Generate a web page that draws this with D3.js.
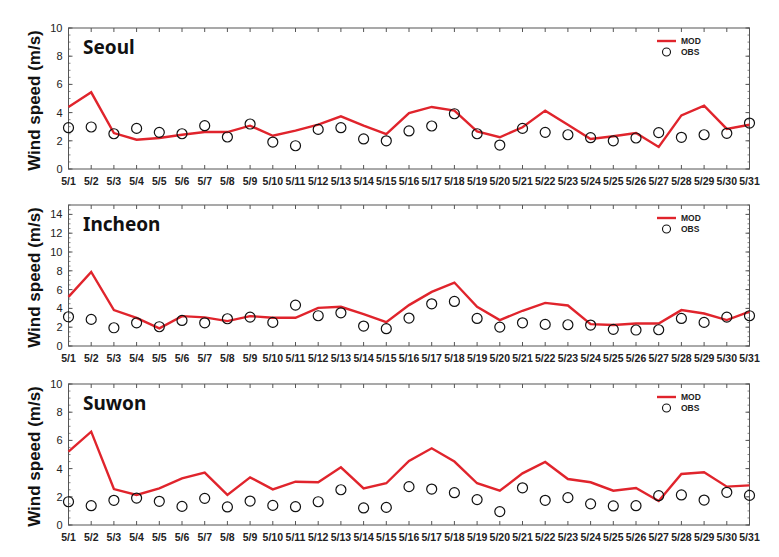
<!DOCTYPE html>
<html><head><meta charset="utf-8">
<script src="https://cdn.jsdelivr.net/npm/d3@7"></script>
<style>body{margin:0;background:#fff}svg{display:block}</style>
</head><body>
<script>
const days = ["5/1","5/2","5/3","5/4","5/5","5/6","5/7","5/8","5/9","5/10","5/11","5/12","5/13","5/14","5/15","5/16","5/17","5/18","5/19","5/20","5/21","5/22","5/23","5/24","5/25","5/26","5/27","5/28","5/29","5/30","5/31"];

const seoulMOD = [4.4,5.44,2.55,2.08,2.2,2.43,2.62,2.62,3.07,2.36,2.72,3.14,3.73,3.07,2.48,3.97,4.4,4.14,2.67,2.25,2.96,4.14,3.14,2.13,2.32,2.55,1.56,3.8,4.49,2.84,3.14];
const seoulOBS = [2.93,2.98,2.5,2.88,2.6,2.5,3.07,2.27,3.19,1.91,1.65,2.81,2.93,2.13,2.0,2.7,3.05,3.92,2.5,1.7,2.88,2.6,2.43,2.22,2.0,2.2,2.58,2.25,2.43,2.53,3.26];

const incheonMOD = [5.23,7.88,3.82,3.0,1.87,3.18,3.04,2.65,3.18,3.0,3.0,4.06,4.17,3.39,2.54,4.35,5.76,6.75,4.17,2.76,3.75,4.59,4.31,2.33,2.23,2.4,2.4,3.82,3.46,2.76,3.65];
const incheonOBS = [3.11,2.83,1.94,2.47,2.05,2.72,2.47,2.9,3.07,2.51,4.35,3.22,3.53,2.12,1.84,2.97,4.49,4.74,2.93,2.01,2.47,2.3,2.26,2.23,1.77,1.7,1.73,2.93,2.51,3.07,3.22];

const suwonMOD = [5.2,6.62,2.55,2.13,2.6,3.31,3.71,2.13,3.38,2.53,3.07,3.03,4.09,2.6,2.96,4.54,5.44,4.5,2.96,2.43,3.66,4.47,3.26,3.03,2.43,2.62,1.7,3.62,3.74,2.72,2.81];
const suwonOBS = [1.65,1.37,1.75,1.91,1.68,1.32,1.89,1.28,1.7,1.39,1.3,1.65,2.5,1.21,1.25,2.72,2.55,2.29,1.8,0.95,2.64,1.75,1.94,1.5,1.35,1.37,2.08,2.13,1.77,2.32,2.1];

const seoulTicks = [0,2,4,6,8,10];
const incheonTicks = [0,2,4,6,8,10,12,14];
const suwonTicks = [0,2,4,6,8,10];

const panels = [
  {name:"Seoul", mod:seoulMOD, obs:seoulOBS, ymax:10, ticks:seoulTicks, minorStep:0.5, top:28, bottom:169, labelY:181},
  {name:"Incheon", mod:incheonMOD, obs:incheonOBS, ymax:15, ticks:incheonTicks, minorStep:0.5, top:205, bottom:346, labelY:358},
  {name:"Suwon", mod:suwonMOD, obs:suwonOBS, ymax:10, ticks:suwonTicks, minorStep:0.5, top:384, bottom:525, labelY:537}
];

const W=779,H=557, left=68.5, right=749.5;
const svg = d3.select("body").append("svg").attr("width",W).attr("height",H);
const frameColor="#555";
const font="Arial, 'Liberation Sans', sans-serif";

panels.forEach(p=>{
  const g = svg.append("g");
  const x = d3.scalePoint().domain(days).range([left,right]);
  const y = d3.scaleLinear().domain([0,p.ymax]).range([p.bottom,p.top]);

  g.append("rect").attr("x",left).attr("y",p.top).attr("width",right-left).attr("height",p.bottom-p.top)
    .attr("fill","none").attr("stroke",frameColor).attr("stroke-width",1);

  days.forEach(d=>{
    g.append("line").attr("x1",x(d)).attr("x2",x(d)).attr("y1",p.bottom).attr("y2",p.bottom-4).attr("stroke",frameColor);
    g.append("line").attr("x1",x(d)).attr("x2",x(d)).attr("y1",p.top).attr("y2",p.top+4).attr("stroke",frameColor);
    g.append("text").attr("x",x(d)).attr("y",p.labelY+4).attr("text-anchor","middle")
      .attr("font-family",font).attr("font-size",10.5).attr("font-weight","bold").attr("fill","#222").text(d);
  });

  const minors = d3.range(0,p.ymax+0.001,p.minorStep);
  minors.forEach(v=>{
    g.append("line").attr("x1",left).attr("x2",left+2).attr("y1",y(v)).attr("y2",y(v)).attr("stroke",frameColor).attr("stroke-width",0.7);
    g.append("line").attr("x1",right).attr("x2",right-2).attr("y1",y(v)).attr("y2",y(v)).attr("stroke",frameColor).attr("stroke-width",0.7);
  });
  p.ticks.forEach(v=>{
    g.append("line").attr("x1",left).attr("x2",left+4).attr("y1",y(v)).attr("y2",y(v)).attr("stroke",frameColor);
    g.append("line").attr("x1",right).attr("x2",right-4).attr("y1",y(v)).attr("y2",y(v)).attr("stroke",frameColor);
    g.append("text").attr("x",left-6).attr("y",y(v)+4).attr("text-anchor","end")
      .attr("font-family",font).attr("font-size",11).attr("fill","#222").text(v);
  });

  const cy=(p.top+p.bottom)/2+2;
  g.append("text").attr("transform",`translate(40,${cy}) rotate(-90)`).attr("text-anchor","middle")
    .attr("font-family",font).attr("font-size",17).attr("font-weight","600").attr("fill","#111").text("Wind speed (m/s)");

  g.append("text").attr("x",83).attr("y",p.top+26).attr("font-family","'Noto Sans', 'Open Sans', sans-serif")
    .attr("font-size",19).attr("font-weight","bold").attr("fill","#111").text(p.name);

  const line = d3.line().x((d,i)=>x(days[i])).y(d=>y(d));
  g.append("path").datum(p.mod).attr("d",line).attr("fill","none").attr("stroke","#e0242c").attr("stroke-width",2.4).attr("stroke-linejoin","miter");

  g.selectAll("circle.obs").data(p.obs).enter().append("circle").attr("class","obs")
    .attr("cx",(d,i)=>x(days[i])).attr("cy",d=>y(d)).attr("r",5).attr("fill","none").attr("stroke","#111").attr("stroke-width",1.2);

  const ly=p.top+13;
  g.append("line").attr("x1",657).attr("x2",676).attr("y1",ly).attr("y2",ly).attr("stroke","#e0242c").attr("stroke-width",2.4);
  g.append("text").attr("x",681).attr("y",ly+3).attr("font-family",font).attr("font-size",8.5).attr("font-weight","bold").attr("fill","#222").text("MOD");
  g.append("circle").attr("cx",666.5).attr("cy",ly+11).attr("r",4).attr("fill","none").attr("stroke","#111").attr("stroke-width",1.1);
  g.append("text").attr("x",681).attr("y",ly+14).attr("font-family",font).attr("font-size",8.5).attr("font-weight","bold").attr("fill","#222").text("OBS");
});
</script>
</body></html>
